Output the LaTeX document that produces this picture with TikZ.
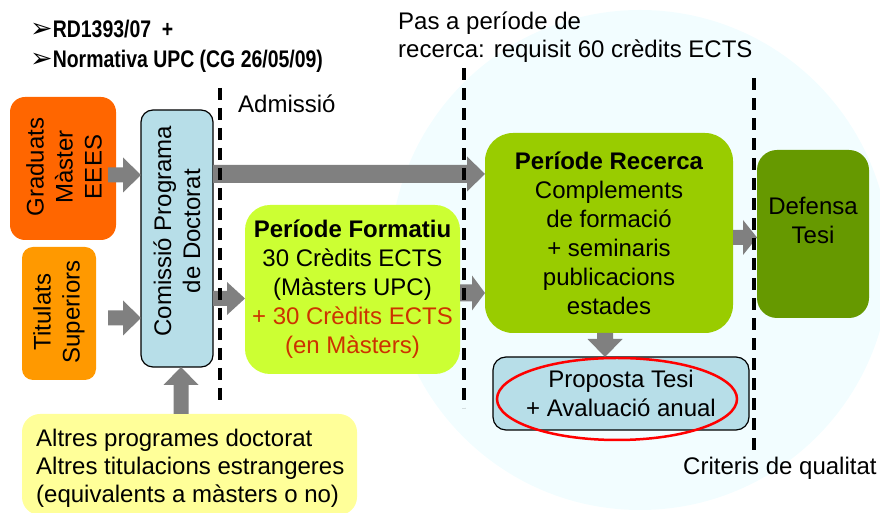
\documentclass[tikz,border=0pt]{standalone}
\usepackage{fontspec}
\setmainfont{Liberation Sans}
\newfontfamily\titlefont{Liberation Sans}[FakeStretch=0.81]
\newfontfamily\symfont{DejaVu Sans}
\usetikzlibrary{calc,shapes.geometric}
\definecolor{cGrad}{HTML}{FF6600}
\definecolor{cTit}{HTML}{FF9900}
\definecolor{cCom}{HTML}{B7DEE8}
\definecolor{cForm}{HTML}{CCFF33}
\definecolor{cRec}{HTML}{99CC00}
\definecolor{cDef}{HTML}{669900}
\definecolor{cAlt}{HTML}{FFFF99}
\definecolor{cArr}{HTML}{808080}
\definecolor{cRedTxt}{HTML}{CC3300}
\definecolor{cWm}{HTML}{F2FDFF}
% horizontal block arrow: #1 start, #2 tip, #3 shaft half, #4 head half, #5 head length
\newcommand\harr[5]{\fill[arrowfill] ($(#1)+(0,#3)$) -- ($(#2)+(-#5,#3)$) -- ($(#2)+(-#5,#4)$) -- (#2) -- ($(#2)+(-#5,-#4)$) -- ($(#2)+(-#5,-#3)$) -- ($(#1)+(0,-#3)$) -- cycle;}
\newcommand\uarr[5]{\fill[arrowfill] ($(#1)+(-#3,0)$) -- ($(#2)+(-#3,-#5)$) -- ($(#2)+(-#4,-#5)$) -- (#2) -- ($(#2)+(#4,-#5)$) -- ($(#2)+(#3,-#5)$) -- ($(#1)+(#3,0)$) -- cycle;}
\newcommand\darr[5]{\fill[arrowfill] ($(#1)+(-#3,0)$) -- ($(#2)+(-#3,#5)$) -- ($(#2)+(-#4,#5)$) -- (#2) -- ($(#2)+(#4,#5)$) -- ($(#2)+(#3,#5)$) -- ($(#1)+(#3,0)$) -- cycle;}
\begin{document}
\begin{tikzpicture}[x=1pt,y=1pt,
  font=\fontsize{24}{29}\selectfont,
  box/.style={rectangle, inner sep=0pt, outer sep=0pt, align=center},
  arrowfill/.style={fill=cArr},
  phase/.style={draw=black, line width=3.5pt, dash pattern=on 12pt off 8pt},
  lbl/.style={inner sep=0pt, anchor=base west},
  titl/.style={inner sep=0pt, anchor=base west, font=\fontsize{24}{28}\selectfont}]
\useasboundingbox (0,0) rectangle (880,513);
% faint watermark
\fill[cWm] (640,253) circle [radius=250];
% boxes
\node[box, fill=cGrad, rounded corners=15pt, minimum width=106pt, minimum height=143pt] (grad) at (63,344.5) {};
\node[box, fill=cTit, rounded corners=11pt, minimum width=74pt, minimum height=133pt] (tit) at (59,199.5) {};
\node[box, fill=cCom, draw=black, line width=1.2pt, rounded corners=12pt, minimum width=72pt, minimum height=257pt] (com) at (177,274.5) {};
\node[box, fill=cForm, rounded corners=25pt, minimum width=215pt, minimum height=169pt] (form) at (352.5,223.5)
  {{\bfseries Període Formatiu}\\30 Crèdits ECTS\\(Màsters UPC)\\\textcolor{cRedTxt}{+ 30 Crèdits ECTS}\\\textcolor{cRedTxt}{(en Màsters)}};
\node[box, fill=cRec, rounded corners=28pt, minimum width=248pt, minimum height=200pt] (rec) at (609,280)
  {{\bfseries Període Recerca}\\Complements\\de formació\\+ seminaris\\publicacions\\estades};
\node[box, fill=cDef, rounded corners=20pt, minimum width=112pt, minimum height=168pt] (def) at (813,279) {};
\node[box, fill=cCom, draw=black, line width=1.2pt, rounded corners=13pt, minimum width=256pt, minimum height=73pt] (prop) at (621,119.5)
  {Proposta Tesi\\+ Avaluació anual};
\node[box, fill=cAlt, rounded corners=18pt, minimum width=335pt, minimum height=101pt] (alt) at (189.5,48.5) {};
% texts in boxes
\node[rotate=90, align=center, inner sep=0pt] (gradtxt) at (64,346) {Graduats\\Màster\\EEES};
\node[rotate=90, align=center, inner sep=0pt] (tittxt) at (59,201) {Titulats\\Superiors};
\node[rotate=90, align=center, inner sep=0pt] (comtxt) at (177,282) {Comissió Programa\\de Doctorat};
\node[align=center, inner sep=0pt] (deftxt) at (813,292.5) {Defensa\\Tesi};
\node[lbl] (alt1) at (36,66) {Altres programes doctorat};
\node[lbl] (alt2) at (36,38) {Altres titulacions estrangeres};
\node[lbl] (alt3) at (36,10) {(equivalents a màsters o no)};
% arrow anchor points
\coordinate (a1s) at (108,338);
\coordinate (a1e) at (a1s -| com.west);
\coordinate (a2s) at (108,195);
\coordinate (a2e) at (a2s -| com.west);
\coordinate (a3s) at (181,99);
\coordinate (a3e) at (a3s |- com.south);
\coordinate (a4s) at (213,339);
\coordinate (a4s) at (a4s -| com.east);
\coordinate (a4e) at (a4s -| rec.west);
\coordinate (a5s) at (213,214.5);
\coordinate (a5s) at (a5s -| com.east);
\coordinate (a5e) at (a5s -| form.west);
\coordinate (a6s) at (460,220);
\coordinate (a6s) at (a6s -| form.east);
\coordinate (a6e) at (a6s -| rec.west);
\coordinate (a7s) at (605,180);
\coordinate (a7s) at (a7s |- rec.south);
\coordinate (a7e) at (a7s |- prop.north);
\coordinate (a8s) at (733,275.5);
\coordinate (a8s) at (a8s -| rec.east);
\coordinate (a8e) at (a8s -| def.west);
% block arrows
\harr{a1s}{a1e}{7.5}{17.5}{18}
\harr{a2s}{a2e}{7.5}{17.5}{18}
\uarr{a3s}{a3e}{7.5}{17.5}{18}
\harr{a4s}{a4e}{9}{17.5}{18}
\harr{a5s}{a5e}{7.5}{16.5}{18}
\harr{a6s}{a6e}{8.5}{17.5}{13}
\darr{a7s}{a7e}{8}{17.5}{18}
\harr{a8s}{a8e}{7.5}{17.5}{14}
% red oval
\node[ellipse, draw=red, line width=2.5pt, minimum width=240pt, minimum height=82pt, inner sep=0pt] (oval) at (617,114) {};
% phase separators
\coordinate (d1t) at (220,425); \coordinate (d1b) at (220,108);
\coordinate (d2t) at (464,445); \coordinate (d2b) at (464,105);
\coordinate (d3t) at (754,435); \coordinate (d3b) at (754,58);
\draw[phase] (d1t) -- (d1b);
\draw[phase] (d2t) -- (d2b);
\draw[phase] (d3t) -- (d3b);
% labels
\node[titl] (t1) at (30,475) {{\symfont\fontsize{27}{28}\selectfont ➢}{\titlefont\bfseries RD1393/07\ \ +}};
\node[titl] (t2) at (30,445) {{\symfont\fontsize{27}{28}\selectfont ➢}{\titlefont\bfseries Normativa UPC (CG 26/05/09)}};
\node[lbl] (adm) at (238,400) {Admissió};
\node[lbl] (pas1) at (398,483) {Pas a període de};
\node[lbl] (pas2) at (398,455) {recerca: requisit 60 crèdits ECTS};
\node[lbl] (crit) at (683,38) {Criteris de qualitat};
\end{tikzpicture}
\end{document}
